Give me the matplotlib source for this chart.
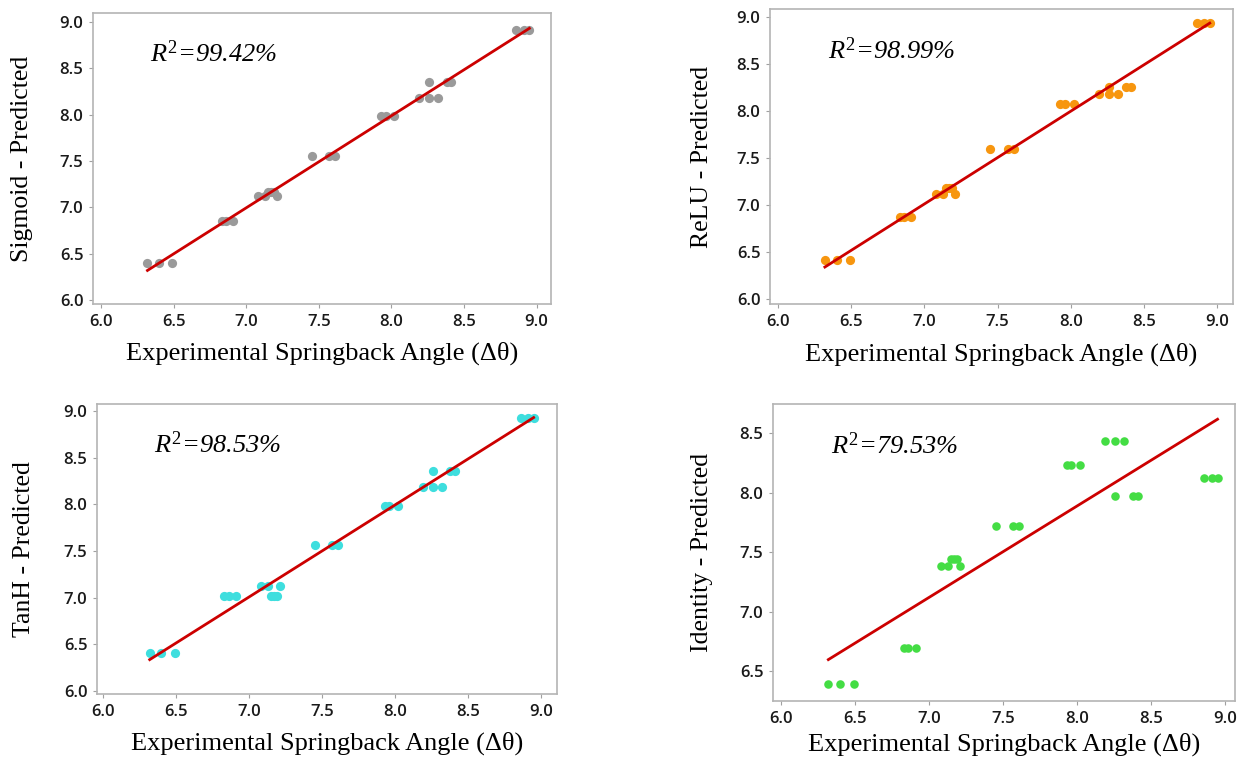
import numpy as np
import matplotlib
matplotlib.use("Agg")
import matplotlib.pyplot as plt

# ---- data ----
experimental = [6.32, 6.40, 6.49, 6.83, 6.86, 6.91, 7.08, 7.13, 7.21,
                7.15, 7.17, 7.19, 7.45, 7.57, 7.61, 7.93, 7.96, 8.02,
                8.19, 8.26, 8.32, 8.26, 8.38, 8.41, 8.86, 8.91, 8.95]

sigmoid_levels = [6.40, 6.85, 7.12, 7.17, 7.55, 7.99, 8.18, 8.35, 8.91]
relu_levels = [6.41, 6.87, 7.12, 7.18, 7.60, 8.07, 8.18, 8.26, 8.94]
tanh_levels = [6.41, 7.02, 7.12, 7.02, 7.56, 7.98, 8.19, 8.36, 8.93]
identity_levels = [6.39, 6.69, 7.38, 7.44, 7.72, 8.23, 8.43, 7.97, 8.12]

sigmoid_pred = np.repeat(sigmoid_levels, 3)
relu_pred = np.repeat(relu_levels, 3)
tanh_pred = np.repeat(tanh_levels, 3)
identity_pred = np.repeat(identity_levels, 3)

model_names = ["Sigmoid", "ReLU", "TanH", "Identity"]
r2_labels = ["99.42%", "98.99%", "98.53%", "79.53%"]
xticks = [6.0, 6.5, 7.0, 7.5, 8.0, 8.5, 9.0]
yticks_main = [6.0, 6.5, 7.0, 7.5, 8.0, 8.5, 9.0]
yticks_identity = [6.5, 7.0, 7.5, 8.0, 8.5]
x_label = "Experimental Springback Angle (\u0394\u03b8)"

# ---- style ----
plt.rcParams['mathtext.fontset'] = 'custom'
plt.rcParams['mathtext.rm'] = 'Liberation Serif'
plt.rcParams['mathtext.it'] = 'Liberation Serif:italic'

W, H = 1240, 760
fig = plt.figure(figsize=(W / 100, H / 100), dpi=100)

def box(l, t, r, b):
    return [l / W, 1 - b / H, (r - l) / W, (b - t) / H]

panels = [
    dict(pred=sigmoid_pred, color="#9a9a9a", rect=box(93, 13, 551, 304),
         xlim=(5.945, 9.099), ylim=(5.957, 9.097), yticks=yticks_main,
         ylab=-0.13, xlab=-0.13, ms=44),
    dict(pred=relu_pred, color="#F7960F", rect=box(770, 9, 1233, 304),
         xlim=(5.945, 9.109), ylim=(5.947, 9.085), yticks=yticks_main,
         ylab=-0.123, xlab=-0.13, ms=44),
    dict(pred=tanh_pred, color="#3EDEDE", rect=box(97, 404, 557, 694),
         xlim=(5.959, 9.11), ylim=(5.968, 9.075), yticks=yticks_main,
         ylab=-0.135, xlab=-0.13, ms=44),
    dict(pred=identity_pred, color="#44DD44", rect=box(773, 404, 1235, 701),
         xlim=(5.946, 9.068), ylim=(6.248, 8.744), yticks=yticks_identity,
         ylab=-0.13, xlab=-0.105, ms=38),
]

x = np.array(experimental)
for name, r2, p in zip(model_names, r2_labels, panels):
    ax = fig.add_axes(p["rect"])
    y = np.array(p["pred"])
    ax.scatter(x, y, s=p["ms"], color=p["color"], linewidths=0, zorder=3)
    slope, intercept = np.polyfit(x, y, 1)
    xl = np.array([x.min(), x.max()])
    ax.plot(xl, slope * xl + intercept, color="#CC0000", lw=2.0, zorder=4)
    ax.set_xlim(*p["xlim"])
    ax.set_ylim(*p["ylim"])
    ax.set_xticks(xticks)
    ax.set_yticks(p["yticks"])
    ax.set_xticklabels([f"{v:.1f}" for v in xticks])
    ax.set_yticklabels([f"{v:.1f}" for v in p["yticks"]])
    for s in ax.spines.values():
        s.set_color("#b4b4b4")
        s.set_linewidth(1.2)
    ax.tick_params(direction="out", length=3, width=0.8, color="#a0a0a0",
                   labelsize=12, labelcolor="#1a1a1a", pad=4)
    for lab in ax.get_xticklabels() + ax.get_yticklabels():
        lab.set_family("Open Sans")
        lab.set_fontweight("semibold")
    ax.set_xlabel(x_label, family="Liberation Serif", fontsize=19)
    ax.set_ylabel(f"{name} - Predicted", family="Liberation Serif", fontsize=18.5)
    ax.xaxis.set_label_coords(0.5, p["xlab"])
    ax.yaxis.set_label_coords(p["ylab"], 0.5)
    ax.text(0.125, 0.86, r"$R^{\mathrm{2}}$=" + r2,
            transform=ax.transAxes, family="Liberation Serif",
            style="italic", fontsize=19, va="center", ha="left")

fig.savefig("out.png", dpi=100)
